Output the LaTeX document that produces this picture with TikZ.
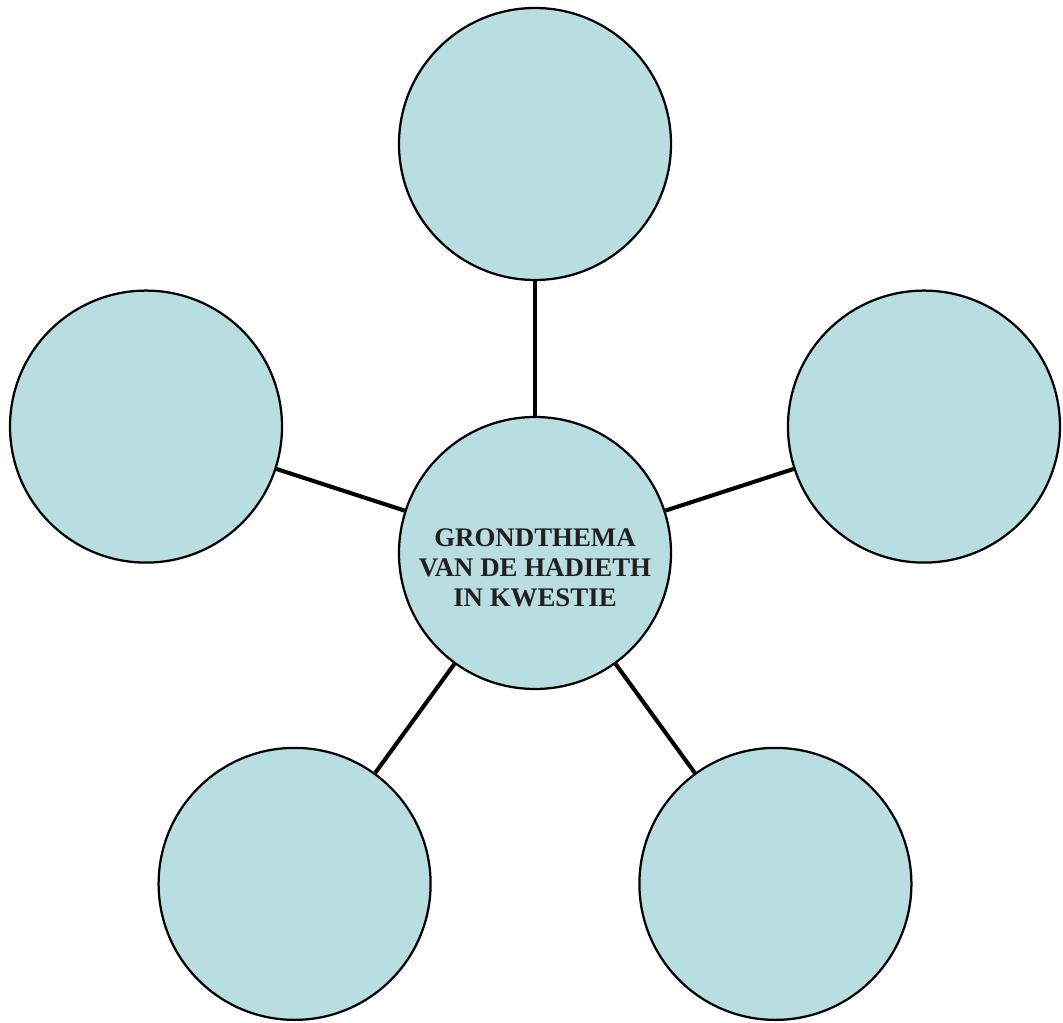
\documentclass[tikz,border=0pt]{standalone}
\usepackage{fontspec}
\setmainfont{Liberation Serif}
\usepackage{xcolor}
\usepackage{tikz}
\usetikzlibrary{calc}
\definecolor{bubble}{HTML}{B8DEE2}
\definecolor{inkdk}{HTML}{231F20}

\begin{document}
\begin{tikzpicture}
    \useasboundingbox (0,0) rectangle (26.575,25.575);
    \tikzset{bubble/.style={circle,draw=black,fill=bubble,line width=1.6pt,minimum size=6.8cm,inner sep=0pt},
      spoke/.style={black,line width=2.9pt}}
    \node[bubble](hub) at (13.375,11.75) {};
    \node[text=inkdk,align=center,font=\bfseries\fontsize{19.1}{21.3}\selectfont](hubtext) at ([yshift=-0.37cm]hub.center) {GRONDTHEMA\\VAN DE HADIETH\\IN KWESTIE};
    \foreach \ang/\nm in {90/top,162/left,18/right,234/lowleft,306/lowright}{
      \node[bubble](\nm) at ($(hub.center)+(\ang:10.225)$) {};
      \draw[spoke](hub)--(\nm);
    }
  \end{tikzpicture}
\end{document}
